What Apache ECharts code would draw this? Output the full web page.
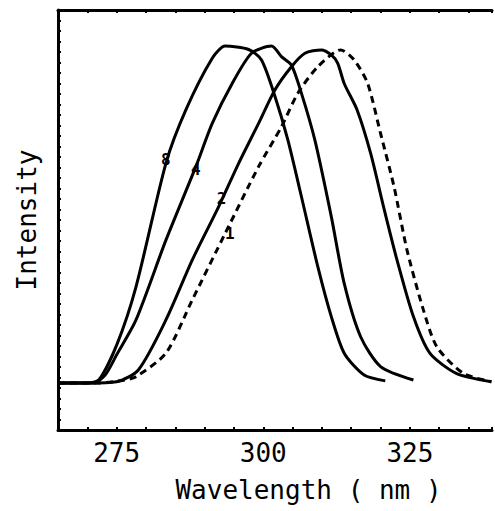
<!DOCTYPE html>
<html><head><meta charset="utf-8">
<script src="https://cdn.jsdelivr.net/npm/echarts@6/dist/echarts.min.js"></script>
<style>html,body{margin:0;padding:0;background:#fff}#c{width:495px;height:511px}</style>
</head><body><div id="c"></div>
<script>
var majorTicks = [275, 300, 325];
var minorStep = 5;

var c8x = [265, 270, 272, 275, 278.3, 283.4, 286.8, 291.3, 293.5, 297.5, 299.7, 302, 304.2, 306.5, 309.3, 311.6, 313.8, 317.2, 320.8];
var c8y = [11.2, 11.2, 12, 20.2, 34.1, 63.5, 76.2, 88.5, 91.4, 90.6, 88.1, 79.4, 69, 55.6, 38.9, 27, 18.3, 13.1, 11.7];

var c4x = [265, 271, 273, 275, 278.3, 283.4, 288.5, 291.3, 294.7, 298, 301.4, 303.1, 304.8, 306.5, 308.8, 311.6, 313.8, 316.6, 320, 325.6];
var c4y = [11.2, 11.2, 13, 17.9, 26.2, 45.2, 62.7, 73, 82.5, 89.7, 91.4, 88.9, 86.9, 80.2, 69, 50.8, 34.9, 22.2, 15.1, 11.9];

var c2x = [265, 270, 275, 278.7, 283.4, 287.9, 292.4, 295.8, 299.2, 302, 304.8, 307.1, 309.9, 311.6, 312.7, 313.8, 316, 318.3, 320.5, 322.8, 325.6, 328.4, 332.9, 338.9];
var c2y = [11.2, 11.2, 11.5, 14.3, 26.2, 40.5, 53.2, 63.5, 73, 81, 86.5, 89.7, 90.5, 89.3, 87.3, 82.5, 76.2, 65.9, 53.2, 40.5, 27, 18.3, 13.5, 11.5];

var c1x = [265, 272, 276, 278.3, 283.4, 287.9, 293.5, 299.2, 303.1, 305.9, 309.3, 313.2, 315.5, 317.8, 320, 322.3, 324.5, 327.3, 329.6, 334.1, 338.9];
var c1y = [11.2, 11.2, 11.8, 12.7, 18.3, 31, 46.8, 62.7, 72.2, 80.2, 86.5, 90.5, 88.1, 82.5, 70.6, 57.9, 42.9, 28.6, 19.8, 13.5, 11.5];

var curveNames = ['8', '4', '2', '1'];
var labelX = [283.4, 288.5, 292.9, 294.3];
var labelY = [64.5, 62, 55.2, 46.9];

function zip(xs, ys) { return xs.map(function (x, i) { return [x, ys[i]]; }); }

var chart = echarts.init(document.getElementById('c'), null, { renderer: 'svg' });
var font = 'DejaVu Sans Mono';
var black = '#000';

function xAxisDef(pos, major, showLabel, name) {
  var a = {
    type: 'value', position: pos, min: 265, max: 339,
    axisLine: { show: true, onZero: false, lineStyle: { color: black, width: 3 } },
    axisLabel: { show: showLabel, color: black, fontFamily: font, fontSize: 26, margin: 10,
      formatter: function (v) { return majorTicks.indexOf(v) >= 0 ? String(v) : ''; } },
    splitLine: { show: false },
    name: name || '', nameLocation: 'middle', nameGap: 47,
    nameTextStyle: { color: black, fontFamily: font, fontSize: 26, padding: [0, 0, 0, 67] }
  };
  if (major) {
    a.axisTick = { show: true, inside: true, length: 7, customValues: majorTicks, lineStyle: { color: black, width: 2 } };
    a.axisLabel.customValues = majorTicks;
  } else {
    a.interval = minorStep;
    a.axisTick = { show: true, inside: true, length: 3, lineStyle: { color: black, width: 2 } };
  }
  return a;
}

var series = [
  { x: c8x, y: c8y, dash: 'solid' },
  { x: c4x, y: c4y, dash: 'solid' },
  { x: c2x, y: c2y, dash: 'solid' },
  { x: c1x, y: c1y, dash: [7, 5] }
].map(function (s, i) {
  return {
    type: 'line', xAxisIndex: 0, yAxisIndex: 0, name: curveNames[i],
    data: zip(s.x, s.y), showSymbol: false, smooth: 0.25,
    lineStyle: { color: black, width: 3, type: s.dash },
    markPoint: {
      symbol: 'circle', symbolSize: 1,
      itemStyle: { color: 'rgba(0,0,0,0)' },
      label: { show: true, formatter: curveNames[i], color: black, fontFamily: 'DejaVu Sans Mono', fontWeight: 'bold', fontSize: 16, position: 'inside' },
      data: [{ coord: [labelX[i], labelY[i]] }]
    },
    z: 3
  };
});

chart.setOption({
  animation: false,
  backgroundColor: '#fff',
  grid: { left: 58, right: 0, top: 10, bottom: 81 },
  xAxis: [
    xAxisDef('bottom', false, true, 'Wavelength ( nm )'),
    xAxisDef('top', false, false)
  ],
  yAxis: [{
    type: 'value', min: 0, max: 100, interval: 2.5,
    axisLine: { show: true, lineStyle: { color: black, width: 3 } },
    axisTick: { show: true, inside: true, length: 3, lineStyle: { color: black, width: 2 } },
    axisLabel: { show: false }, splitLine: { show: false },
    name: 'Intensity', nameLocation: 'middle', nameGap: 18,
    nameTextStyle: { color: black, fontFamily: font, fontSize: 26 }
  }],
  series: series
});
</script></body></html>
